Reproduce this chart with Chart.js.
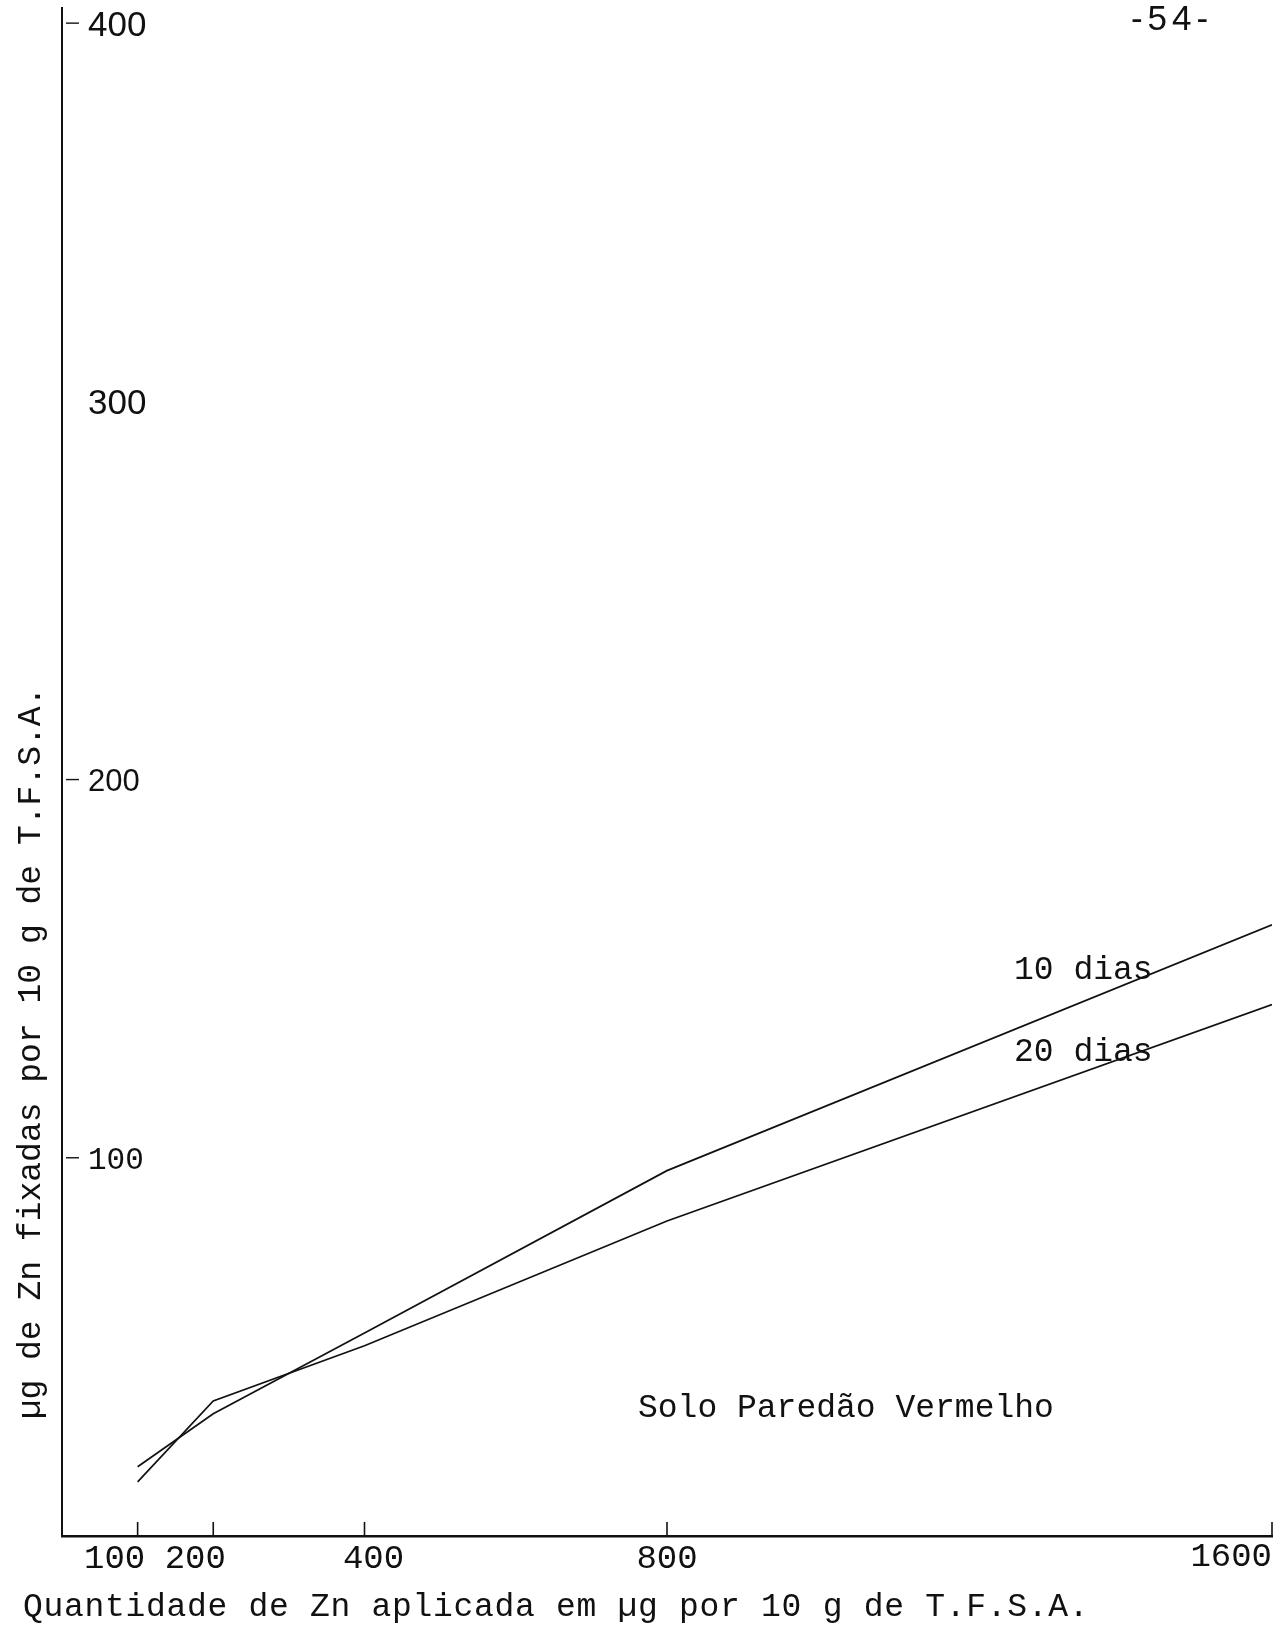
<!DOCTYPE html>
<html>
<head>
<meta charset="utf-8">
<script src="https://cdn.jsdelivr.net/npm/chart.js@4.4.0/dist/chart.umd.min.js"></script>
<style>
  html, body { margin: 0; padding: 0; background: #ffffff; }
  canvas { display: block; }
</style>
</head>
<body>
<canvas id="c" width="1288" height="1627"></canvas>
<script>
// Zn applied (µg per 10 g T.F.S.A.)
const doses = [100, 200, 400, 800, 1600];
// Zn fixed (µg per 10 g T.F.S.A.) after 10 and 20 days
const fixed10 = [18.3, 32.3, 53.7, 96.6, 161.6];
const fixed20 = [14.3, 35.7, 50.3, 83.3, 140.5];
const seriesNames = ['10 dias', '20 dias'];
// axis ticks
const yTickValues = [100, 200, 300, 400];
const yDashValues = [100, 200, 400];
const xTickValues = [100, 200, 400, 800, 1600];
const xTickLabels = ['100', '200', '400', '800', '1600'];

const INK = '#111111';
const TYPE = '"Liberation Mono", "DejaVu Sans Mono", monospace';
const HAND = '"Liberation Sans", "DejaVu Sans", sans-serif';

const toPoints = (xs, ys) => xs.map((x, i) => ({ x: x, y: ys[i] }));

// scales take no room of their own: the plot area is set by layout padding
const noRoom = s => {
  if (s.isHorizontal()) { s.height = 0; } else { s.width = 0; }
  s.paddingTop = 0; s.paddingBottom = 0; s.paddingLeft = 0; s.paddingRight = 0;
};

const annotations = {
  id: 'annotations',
  afterDraw(chart) {
    const ctx = chart.ctx;
    const xs = chart.scales.x;
    const ys = chart.scales.y;
    ctx.save();
    ctx.fillStyle = INK;
    ctx.strokeStyle = INK;

    // short tick marks standing on the x axis
    ctx.lineWidth = 1.6;
    xTickValues.forEach(v => {
      const px = xs.getPixelForValue(v);
      ctx.beginPath();
      ctx.moveTo(px, ys.bottom - 14);
      ctx.lineTo(px, ys.bottom);
      ctx.stroke();
    });

    // small dashes to the right of the y axis
    ctx.lineWidth = 1.4;
    yDashValues.forEach(v => {
      const py = ys.getPixelForValue(v);
      ctx.beginPath();
      ctx.moveTo(xs.left + 4, py);
      ctx.lineTo(xs.left + 17, py);
      ctx.stroke();
    });

    // x tick labels
    ctx.font = '34px ' + TYPE;
    ctx.textBaseline = 'middle';
    const shift = { 100: -23, 200: -18, 400: 9, 800: 0 };
    xTickValues.forEach((v, i) => {
      const px = xs.getPixelForValue(v);
      if (v === xTickValues[xTickValues.length - 1]) {
        ctx.textAlign = 'right';
        ctx.fillText(xTickLabels[i], px, ys.bottom + 21);
      } else {
        ctx.textAlign = 'center';
        ctx.fillText(xTickLabels[i], px + (shift[v] || 0), ys.bottom + 23);
      }
    });

    // axis titles
    ctx.font = '33px ' + TYPE;
    ctx.textAlign = 'left';
    ctx.letterSpacing = '0.7px';
    ctx.fillText('Quantidade de Zn aplicada em µg por 10 g de T.F.S.A.', 23, 1607);
    ctx.letterSpacing = '0px';

    ctx.save();
    ctx.translate(31, 1053);
    ctx.rotate(-Math.PI / 2);
    ctx.textAlign = 'center';
    ctx.fillText('µg de Zn fixadas por 10 g de T.F.S.A.', 0, 0);
    ctx.restore();

    // series labels and soil name
    ctx.textAlign = 'left';
    ctx.fillText(seriesNames[0], 1014, 970);
    ctx.fillText(seriesNames[1], 1014, 1052);
    ctx.fillText('Solo Paredão Vermelho', 638, 1408);

    // page number
    ctx.font = '35px ' + HAND;
    ctx.textAlign = 'center';
    ctx.letterSpacing = '5px';
    ctx.fillText('-54-', 1172, 20);
    ctx.letterSpacing = '0px';

    ctx.restore();
  }
};

new Chart(document.getElementById('c'), {
  type: 'line',
  data: {
    datasets: [
      {
        label: seriesNames[0],
        data: toPoints(doses, fixed10),
        borderColor: INK,
        borderWidth: 1.7,
        pointRadius: 0,
        tension: 0,
        fill: false
      },
      {
        label: seriesNames[1],
        data: toPoints(doses, fixed20),
        borderColor: INK,
        borderWidth: 1.7,
        pointRadius: 0,
        tension: 0,
        fill: false
      }
    ]
  },
  options: {
    responsive: false,
    animation: false,
    events: [],
    layout: { padding: { left: 62, right: 16, top: 8, bottom: 91 } },
    plugins: {
      legend: { display: false },
      tooltip: { enabled: false },
      title: { display: false }
    },
    scales: {
      x: {
        type: 'linear',
        min: 0,
        max: 1600,
        afterFit: noRoom,
        ticks: { display: false },
        grid: { display: true, color: 'rgba(0,0,0,0)', drawTicks: false },
        border: { display: true, color: INK, width: 2.4 }
      },
      y: {
        type: 'linear',
        min: 0,
        max: 404,
        afterFit: noRoom,
        afterBuildTicks: s => { s.ticks = yTickValues.map(v => ({ value: v })); },
        ticks: {
          mirror: true,
          padding: 26,
          labelOffset: 3,
          color: INK,
          font: c => ({
            family: c.tick && c.tick.value === 100 ? TYPE : HAND,
            size: c.tick && c.tick.value >= 300 ? 35 : 31
          }),
          callback: v => String(v)
        },
        grid: { display: true, color: 'rgba(0,0,0,0)', drawTicks: false },
        border: { display: true, color: INK, width: 2 }
      }
    }
  },
  plugins: [annotations]
});
</script>
</body>
</html>
